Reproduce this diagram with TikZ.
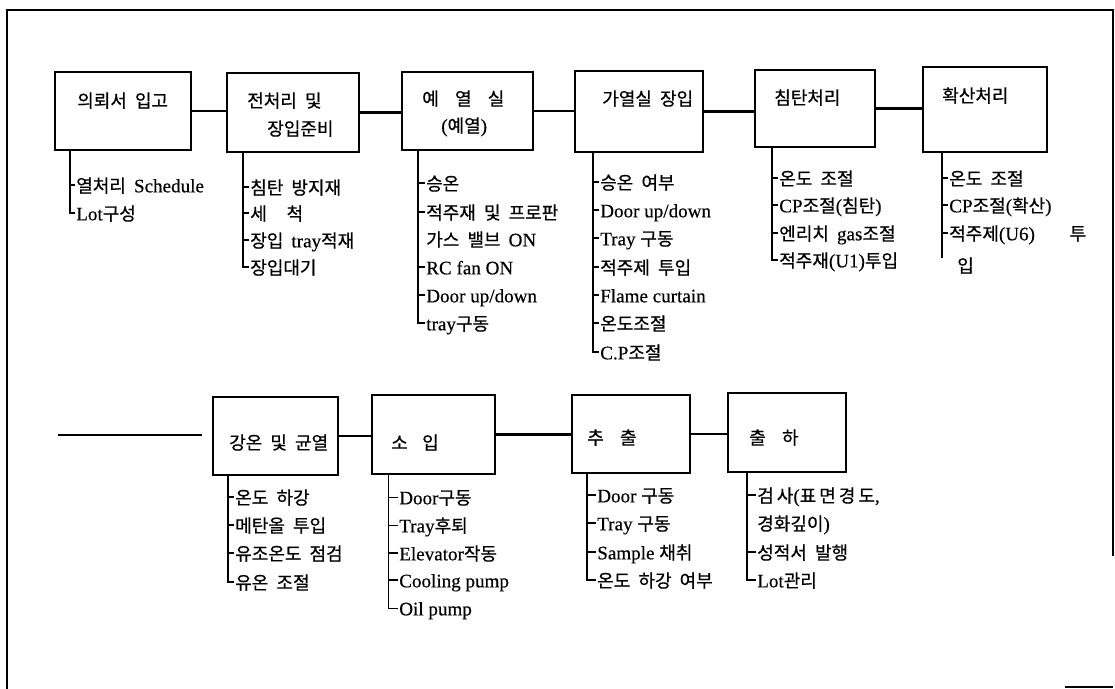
\documentclass[tikz,border=0pt]{standalone}
\usepackage{fontspec}
\setmainfont{Liberation Serif}[Scale=1.06,FakeBold=0.4]
\newfontfamily\krf{Noto Sans CJK KR}[WordSpace=2.0,FakeBold=0.6]
\newcommand\K[1]{{\krf #1}}
\usetikzlibrary{calc}
\tikzset{
  box/.style={draw, line width=1.5pt, inner sep=0pt},
  lbl/.style={anchor=west, inner sep=0pt, font=\fontsize{13.5}{16}\selectfont, text height=12pt, text depth=1pt},
  item/.style={lbl},
  link/.style={line width=1.6pt},
  trunk/.style={line width=1.4pt},
  thintrunk/.style={line width=0.7pt},
  frame/.style={line width=1.5pt}
}
\newcommand\bx[5]{\node[box, minimum width={(#4-#2)*0.75pt}, minimum height={(#5-#3)*0.75pt}] (#1) at ({(#2+#4)/2},{(#3+#5)/2}) {};}
\newcommand\lstline[5]{\draw[#5] ($(#1.south -| #2.west)+(-#4,0)$) |- ($(#3.west)+(-1,0)$);}
\newcommand\tk[3]{\draw[#3] ($(#1.west)+(-#2,0)$) -- ($(#1.west)+(-1,0)$);}
\begin{document}
\begin{tikzpicture}[x=0.75pt,y=-0.75pt]
\useasboundingbox (0,0) rectangle (1115,689);
% frame
\draw[frame] (7,689) -- (7,10) -- (1113,10) -- (1113,556);
\draw[line width=0.8pt] (1065,687) -- (1113,687);

% ---- top row boxes
\bx{b1}{55}{72}{191}{150}
\bx{b2}{227}{73}{359}{152}
\bx{b3}{402}{72}{533}{150}
\bx{b4}{575}{71}{703}{152}
\bx{b5}{755}{70}{875}{147}
\bx{b6}{923}{67}{1047}{152}
\draw[link] (b1.east) -- (b1.east -| b2.west);
\draw[link] (b2.east) -- (b2.east -| b3.west);
\draw[link] (b3.east) -- (b3.east -| b4.west);
\draw[link] (b4.east) -- (b4.east -| b5.west);
\draw[link] (b5.east) -- (b5.east -| b6.west);

% labels
\node[lbl] (b1t) at (77,100) {\K{의뢰서 입고}};
\node[lbl] (b2t) at (247,100) {\K{전처리 및}};
\node[lbl] (b2u) at (267,128) {\K{장입준비}};
\node[lbl] (b3t) at (422,98) {\K{예\hspace{0.9em}열\hspace{0.9em}실}};
\node[lbl] (b3u) at (441,125) {(\K{예열})};
\node[lbl] (b4t) at (602,98) {\K{가열실 장입}};
\node[lbl] (b5t) at (774,97) {\K{침탄처리}};
\node[lbl] (b6t) at (942,95) {\K{확산처리}};

% list 1
\node[item] (b1a) at (76,185) {\K{열처리 }Schedule};
\node[item] (b1b) at (76,213) {Lot\K{구성}};
\lstline{b1}{b1a}{b1b}{6}{trunk}
\tk{b1a}{6}{trunk}

% list 2
\node[item] (b2a) at (250,187) {\K{침탄 방지재}};
\node[item] (b2b) at (250,213) {\K{세\hspace{1.1em}척}};
\node[item] (b2c) at (250,240) {\K{장입 }tray\K{적재}};
\node[item] (b2d) at (250,267) {\K{장입대기}};
\lstline{b2}{b2a}{b2d}{7}{trunk}
\tk{b2a}{7}{trunk}
\tk{b2b}{7}{trunk}
\tk{b2c}{7}{trunk}

% list 3
\node[item] (b3a) at (426,183) {\K{승온}};
\node[item] (b3b) at (426,212) {\K{적주재 및 프로판}};
\node[item] (b3c) at (426,239) {\K{가스 밸브 }ON};
\node[item] (b3d) at (426,267) {RC fan ON};
\node[item] (b3e) at (426,295) {Door up/down};
\node[item] (b3f) at (426,323) {tray\K{구동}};
\lstline{b3}{b3a}{b3f}{8}{trunk}
\tk{b3a}{8}{trunk}
\tk{b3b}{8}{trunk}
\tk{b3d}{8}{trunk}
\tk{b3e}{8}{trunk}

% list 4
\node[item] (b4a) at (600,182) {\K{승온 여부}};
\node[item] (b4b) at (600,210) {Door up/down};
\node[item] (b4c) at (600,238) {Tray \K{구동}};
\node[item] (b4d) at (600,267) {\K{적주제 투입}};
\node[item] (b4e) at (600,295) {Flame curtain};
\node[item] (b4f) at (600,323) {\K{온도조절}};
\node[item] (b4g) at (600,352) {C.P\K{조절}};
\lstline{b4}{b4a}{b4g}{7}{trunk}
\tk{b4a}{7}{trunk}
\tk{b4b}{7}{trunk}
\tk{b4c}{7}{trunk}
\tk{b4d}{7}{trunk}
\tk{b4e}{7}{trunk}
\tk{b4f}{7}{trunk}

% list 5
\node[item] (b5a) at (779,178) {\K{온도 조절}};
\node[item] (b5b) at (779,205) {CP\K{조절}(\K{침탄})};
\node[item] (b5c) at (779,233) {\K{엔리치 }gas\K{조절}};
\node[item] (b5d) at (779,260) {\K{적주재}(U1)\K{투입}};
\lstline{b5}{b5a}{b5d}{7}{trunk}
\tk{b5a}{7}{trunk}
\tk{b5b}{7}{trunk}
\tk{b5c}{7}{trunk}

% list 6
\node[item] (b6a) at (949,178) {\K{온도 조절}};
\node[item] (b6b) at (949,205) {CP\K{조절}(\K{확산})};
\node[item] (b6c) at (949,233) {\K{적주제}(U6)\hspace{26pt}\K{투}};
\node[item] (b6d) at (957,265) {\K{입}};
\draw[trunk] ($(b6.south -| b6a.west)+(-7,0)$) -- ($(b6c.west)+(-7,25)$);
\tk{b6a}{7}{trunk}
\tk{b6b}{7}{trunk}
\tk{b6c}{7}{trunk}

% ---- bottom row
\coordinate (lead1) at (58,435);
\coordinate (lead2) at (202,435);
\draw[link] (lead1) -- (lead2);
\bx{b7}{213}{397}{338}{475}
\bx{b8}{372}{395}{495}{474}
\bx{b9}{572}{395}{690}{473}
\bx{b10}{728}{393}{846}{472}
\draw[link] (b7.east) -- (b7.east -| b8.west);
\draw[link] (b8.east) -- (b8.east -| b9.west);
\draw[link] (b9.east) -- (b9.east -| b10.west);

\node[lbl] (b7t) at (229,442) {\K{강온 및 균열}};
\node[lbl] (b8t) at (391,442) {\K{소\hspace{0.8em}입}};
\node[lbl] (b9t) at (587,437) {\K{추\hspace{0.9em}출}};
\node[lbl] (b10t) at (749,437) {\K{출\hspace{0.9em}하}};

% list 7
\node[item] (b7a) at (235,497) {\K{온도 하강}};
\node[item] (b7b) at (235,525) {\K{메탄올 투입}};
\node[item] (b7c) at (235,553) {\K{유조온도 점검}};
\node[item] (b7d) at (235,582) {\K{유온 조절}};
\lstline{b7}{b7a}{b7d}{7}{trunk}
\tk{b7a}{7}{trunk}
\tk{b7b}{7}{trunk}
\tk{b7c}{7}{trunk}

% list 8
\node[item] (b8a) at (399,497) {Door\K{구동}};
\node[item] (b8b) at (399,525) {Tray\K{후퇴}};
\node[item] (b8c) at (399,553) {Elevator\K{작동}};
\node[item] (b8d) at (399,580) {Cooling pump};
\node[item] (b8e) at (399,608) {Oil pump};
\lstline{b8}{b8a}{b8e}{11}{thintrunk}
\tk{b8a}{11}{thintrunk}
\tk{b8b}{11}{thintrunk}
\tk{b8c}{11}{trunk}
\tk{b8d}{11}{trunk}

% list 9
\node[item] (b9a) at (597,495) {Door \K{구동}};
\node[item] (b9b) at (597,523) {Tray \K{구동}};
\node[item] (b9c) at (597,552) {Sample \K{채취}};
\node[item] (b9d) at (597,580) {\K{온도 하강 여부}};
\lstline{b9}{b9a}{b9d}{10}{trunk}
\tk{b9a}{10}{trunk}
\tk{b9b}{10}{trunk}
\tk{b9c}{10}{trunk}

% list 10
\node[item] (b10a) at (757,495) {\K{검\,사}(\K{표\,면\,경\,도},};
\node[item] (b10b) at (757,523) {\K{경화깊이})};
\node[item] (b10c) at (757,552) {\K{성적서 발행}};
\node[item] (b10d) at (757,580) {Lot\K{관리}};
\lstline{b10}{b10a}{b10d}{10}{trunk}
\tk{b10a}{10}{trunk}
\tk{b10c}{10}{trunk}
\end{tikzpicture}
\end{document}
